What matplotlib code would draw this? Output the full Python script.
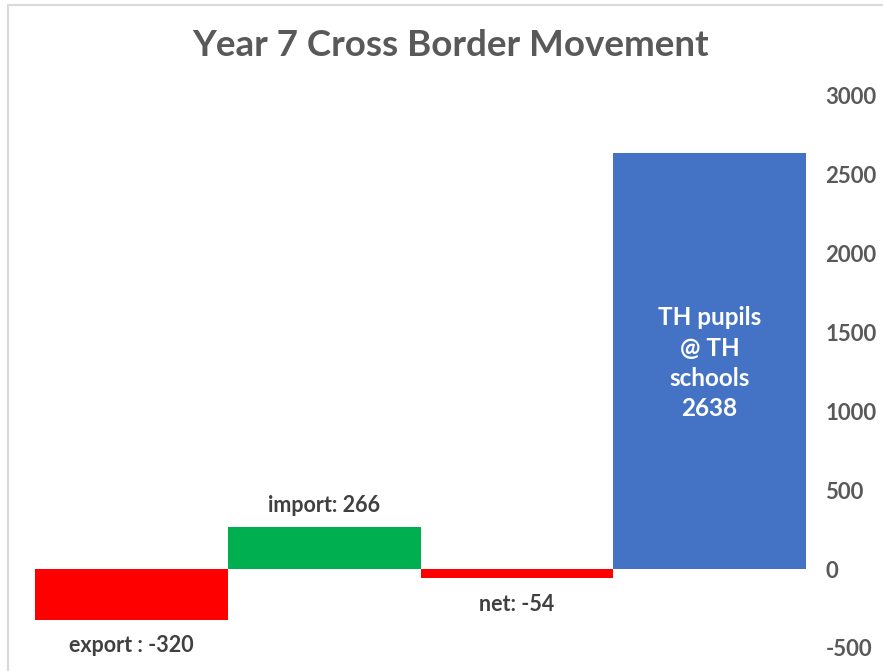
import matplotlib
matplotlib.use("Agg")
import matplotlib.pyplot as plt
from matplotlib.patches import Rectangle

categories = ["export", "import", "net", "TH pupils @ TH schools"]
values = [-320, 266, -54, 2638]
colors = ["#FF0000", "#00B050", "#FF0000", "#4472C4"]
labels = ["export : -320", "import: 266", "net: -54", "TH pupils\n@ TH\nschools\n2638"]
yticks = [-500, 0, 500, 1000, 1500, 2000, 2500, 3000]

plt.rcParams['font.family'] = ['Lato', 'DejaVu Sans']
plt.rcParams['axes.unicode_minus'] = False

fig = plt.figure(figsize=(8.83, 6.71), dpi=100)
fig.patch.set_facecolor("white")
fig.patches.append(Rectangle((8/883, -0.1), 1.2, 1 - 5/671 + 0.1, transform=fig.transFigure,
                             fill=False, edgecolor="#D9D9D9", linewidth=1.5))

ax = fig.add_axes([35/883, 1 - 648/671, 771/883, 552/671])
x = list(range(len(categories)))
ax.bar(x, values, width=1.0, color=colors, edgecolor="none")
ax.set_xlim(-0.5, 3.5)
ax.set_ylim(-500, 3000)
ax.set_xticks([])
ax.set_yticks(yticks)
ax.set_yticklabels([str(v) for v in yticks])
ax.yaxis.tick_right()
ax.tick_params(axis='y', length=0, pad=14, labelsize=16, labelcolor="#595959")
for t in ax.get_yticklabels():
    t.set_fontweight("bold")
    t.set_horizontalalignment("left")
for s in ax.spines.values():
    s.set_visible(False)

lc = "#404040"
ax.text(x[0], -485, labels[0], ha="center", va="center", fontsize=15.5, fontweight="bold", color=lc)
ax.text(x[1], 405, labels[1], ha="center", va="center", fontsize=15.5, fontweight="bold", color=lc)
ax.text(x[2], -225, labels[2], ha="center", va="center", fontsize=15.5, fontweight="bold", color=lc)
ax.text(x[3], 1305, labels[3], ha="center", va="center", fontsize=17.5, fontweight="bold",
        color="white", linespacing=1.38)

fig.text(451/883, 1 - 46/671, "Year 7 Cross Border Movement", ha="center", va="center",
         fontsize=26.5, fontweight="bold", color="#595959")

fig.savefig("out.png", dpi=100)
